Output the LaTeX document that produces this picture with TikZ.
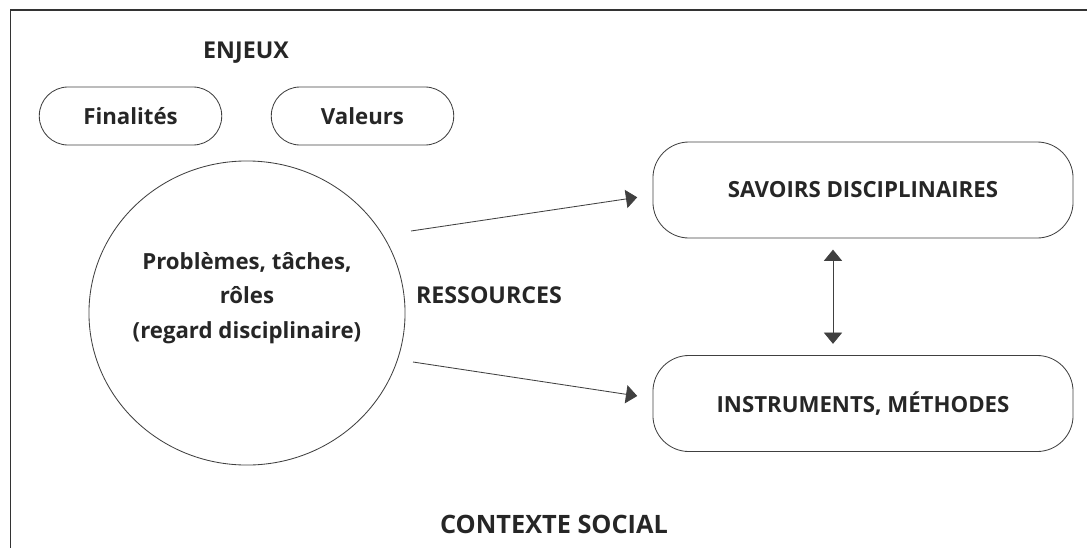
\documentclass[tikz,border=0pt]{standalone}
\usepackage{fontspec}
\setmainfont{Open Sans}
\usetikzlibrary{shapes.geometric,arrows.meta}

\begin{document}
\begin{tikzpicture}[x=0.025cm, y=-0.025cm, line width=0.6pt, draw=black!75,
  every node/.style={font=\fontsize{15.8}{23.4}\selectfont\bfseries, text=black!85},
  big/.style={font=\fontsize{16.5}{20}\selectfont\bfseries},
  pill/.style={draw, rectangle, rounded corners=0.72cm, minimum width=4.56cm, minimum height=1.45cm},
  resbox/.style={draw, rectangle, rounded corners=0.9cm, minimum width=10.5cm, minimum height=2.4cm},
  tip/.tip={Triangle[length=8pt, width=13pt]},
  arr/.style={-tip, shorten >=11pt}]
  \useasboundingbox (0,0) rectangle (1087,548);
  \draw[line width=1.4pt, black!80] (1087,10) -- (10.5,10) -- (10.5,548);

  \node[big] (enjeux) at (246,53) {ENJEUX};
  \node[pill] (final) at (130.5,116) {Finalités};
  \node[pill] (valeurs) at (362.5,116) {Valeurs};
  \node[draw, ellipse, inner sep=0pt, minimum width=7.9cm, minimum height=7.6cm] (prob) at (247,313) {};
  \node[align=center, font=\fontsize{15.8}{24.6}\selectfont\bfseries] (probtext) at (247,298)
    {Problèmes, tâches,\\rôles\\(regard disciplinaire)};
  \node[big] (ress) at (489,295) {RESSOURCES};
  \node[resbox] (savoirs) at (863,190) {SAVOIRS DISCIPLINAIRES};
  \node[resbox] (instr) at (863,403.5) {INSTRUMENTS, MÉTHODES};
  \node[font=\fontsize{18}{20}\selectfont\bfseries] (contexte) at (554,524) {CONTEXTE SOCIAL};

  \coordinate (s1) at (411,231);
  \coordinate (s2) at (413,362);
  \draw[arr] (s1) -- ([yshift=-0.125cm]savoirs.west);
  \draw[arr] (s2) -- ([yshift=0.13cm]instr.west);
  \draw[tip-tip, shorten <=8pt, shorten >=8pt]
    ([xshift=-0.75cm]savoirs.south) -- ([xshift=-0.75cm]instr.north);
\end{tikzpicture}
\end{document}
